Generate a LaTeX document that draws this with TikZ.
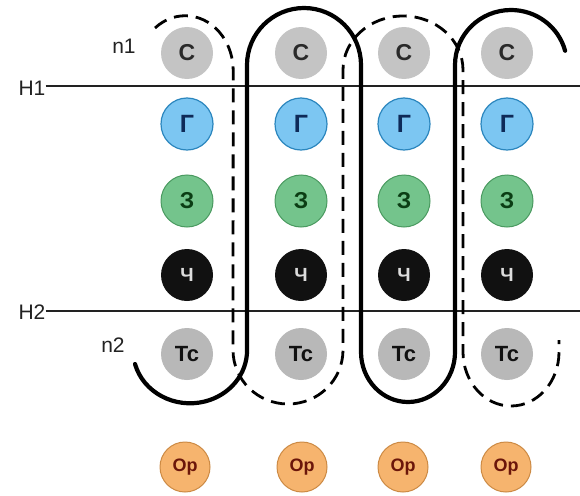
\documentclass[tikz,border=0pt]{standalone}
\usepackage{fontspec}
\setmainfont{Liberation Sans}
\definecolor{sgray}{HTML}{C4C4C4}
\definecolor{stext}{HTML}{2A2A2A}
\definecolor{gfill}{HTML}{7CC6F2}
\definecolor{gline}{HTML}{2B86BE}
\definecolor{gtext}{HTML}{0E2A58}
\definecolor{zfill}{HTML}{74C48C}
\definecolor{zline}{HTML}{4A9A60}
\definecolor{ztext}{HTML}{0B3D14}
\definecolor{chfill}{HTML}{111111}
\definecolor{chtext}{HTML}{DDDDDD}
\definecolor{tfill}{HTML}{B8B8B8}
\definecolor{ttext}{HTML}{111111}
\definecolor{ofill}{HTML}{F6B46E}
\definecolor{oline}{HTML}{CC8A44}
\definecolor{otext}{HTML}{6B160A}
\definecolor{lbl}{HTML}{222222}
\tikzset{
  ball/.style={circle, minimum size=52pt, inner sep=0pt, font=\bfseries\fontsize{23}{23}\selectfont},
  cball/.style={ball, fill=sgray, text=stext},
  gball/.style={ball, fill=gfill, draw=gline, line width=1.2pt, text=gtext, font=\bfseries\fontsize{25}{25}\selectfont},
  zball/.style={ball, fill=zfill, draw=zline, line width=1pt, text=ztext},
  chball/.style={ball, fill=chfill, text=chtext, font=\bfseries\fontsize{19}{19}\selectfont},
  tball/.style={ball, fill=tfill, text=ttext, font=\bfseries\fontsize{22}{22}\selectfont},
  oball/.style={ball, minimum size=50pt, fill=ofill, draw=oline, line width=1pt, text=otext, font=\bfseries\fontsize{18}{18}\selectfont},
  lab/.style={inner sep=0pt, text=lbl, font=\fontsize{21}{21}\selectfont},
  axisline/.style={line width=2.4pt, draw=lbl},
  solidloop/.style={line width=4.2pt, black, line cap=round, line join=round},
  dashloop/.style={line width=2.8pt, black, dash pattern=on 14pt off 8pt},
}
\begin{document}
\begin{tikzpicture}[x=1pt,y=1pt]
\useasboundingbox (0,0) rectangle (580,-495);
\fill[white] (0,0) rectangle (580,-495);

% labels and horizontal lines
\node[lab] (H1) at (32,-88) {H1};
\node[lab] (H2) at (32,-312) {H2};
\node[lab] (n1) at (124,-46) {n1};
\node[lab] (n2) at (113,-345) {n2};
\coordinate (h1end) at (580,-86);
\coordinate (h2end) at (580,-311);
\draw[axisline] (H1.east |- h1end) -- (h1end);
\draw[axisline] (H2.east |- h2end) -- (h2end);

% circles
\foreach \i/\x in {1/187,2/301,3/404,4/507}{
  \node[cball]  (c\i)  at (\x,-53)  {С};
  \node[gball]  (g\i)  at (\x,-124) {Г};
  \node[zball]  (z\i)  at (\x,-201) {З};
  \node[chball] (ch\i) at (\x,-275) {Ч};
  \node[tball]  (t\i)  at (\x,-354) {Тс};
}
\foreach \i/\x in {1/185,2/302,3/403,4/506}{
  \node[oball] (o\i) at (\x,-467) {Ор};
}

% solid serpentine (from n2)
\coordinate (s0) at (135,-364);
\coordinate (s1) at (565,-51);
\draw[solidloop] (s0) arc[start angle=195, end angle=360, x radius=57, y radius=53]
  -- (247,-65) arc[start angle=180, end angle=0, x radius=57, y radius=57]
  -- (361,-352) arc[start angle=180, end angle=360, x radius=47, y radius=50]
  -- (455,-65) arc[start angle=180, end angle=15, x radius=56, y radius=55];

% dashed serpentine (from n1)
\coordinate (d0) at (155,-28);
\draw[dashloop] (d0) arc[start angle=129, end angle=0, x radius=48, y radius=55]
  -- (233,-350) arc[start angle=180, end angle=360, x radius=55, y radius=54]
  -- (343,-70) arc[start angle=180, end angle=0, x radius=60, y radius=54]
  -- (463,-352) arc[start angle=180, end angle=360, x radius=48, y radius=54]
  -- (559,-340);
\end{tikzpicture}
\end{document}
